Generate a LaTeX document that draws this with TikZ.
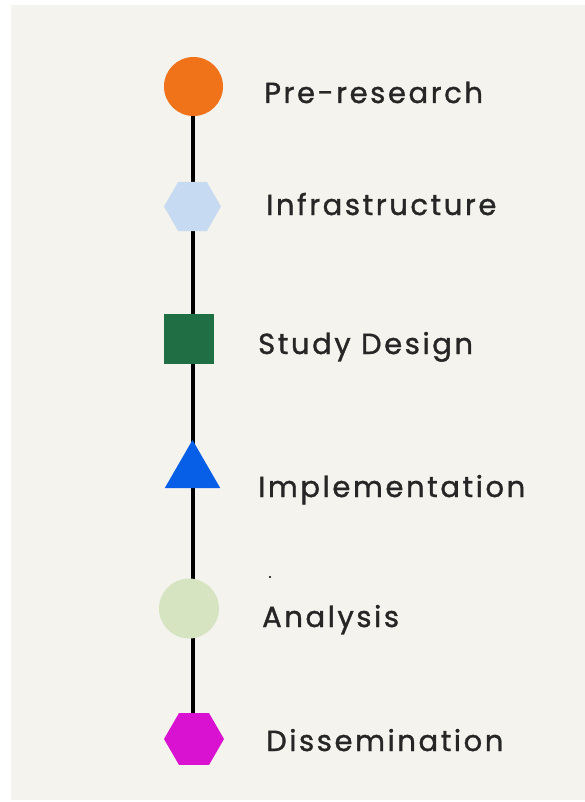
\documentclass[tikz,border=0pt]{standalone}
\usepackage{fontspec}
\setmainfont{Poppins}[LetterSpace=9, FakeBold=1.2]
\usepackage{tikz}
\usetikzlibrary{shapes.geometric}
\definecolor{paperColor}{HTML}{F4F3ED}
\definecolor{preColor}{HTML}{F07319}
\definecolor{infraColor}{HTML}{C6DAF1}
\definecolor{designColor}{HTML}{1F6E44}
\definecolor{implColor}{HTML}{065FE6}
\definecolor{analysisColor}{HTML}{D6E4C2}
\definecolor{dissColor}{HTML}{D812D0}

\begin{document}
\begin{tikzpicture}[x=1pt, y=-1pt,
    stage/.style={inner sep=0pt, outer sep=0pt, draw=none},
    hexagon/.style={stage, regular polygon, regular polygon sides=6},
    stagename/.style={anchor=base west, inner sep=0pt, text=black!85,
        font=\fontsize{29}{35}\selectfont}]
    \useasboundingbox (0,0) rectangle (585,802);
    \fill[paperColor] (11,5) rectangle (585,800);

    % the spine runs behind all the markers
    \coordinate (spineTop) at (193,87);
    \coordinate (spineBottom) at (193,739);
    \draw[line width=3.8pt] (spineTop) -- (spineBottom);

    \node[stage, circle, fill=preColor, minimum size=59pt] (pre) at (193.5,86.5) {};
    \node[hexagon, fill=infraColor, minimum size=57pt] (infra) at (192.5,206.5) {};
    \node[stage, rectangle, fill=designColor, minimum size=50pt] (design) at (189,339) {};
    \node[stage, regular polygon, regular polygon sides=3, fill=implColor, minimum size=64pt] (impl) at (192.5,472) {};
    \node[stage, circle, fill=analysisColor, minimum size=60pt] (analysis) at (189,608.5) {};
    \node[hexagon, fill=dissColor, minimum size=60pt] (diss) at (194,739) {};

    \node[stagename] (preText) at (264,103) {Pre-research};
    \node[stagename] (infraText) at (266,215) {Infrastructure};
    \node[stagename] (designText) at (258,354) {Study Design};
    \node[stagename] (implText) at (258,497) {Implementation};
    \node[stagename] (analysisText) at (262,627) {Analysis};
    \node[stagename] (dissText) at (266,751) {Dissemination};

    \fill (270,577) circle (1.1pt);
\end{tikzpicture}
\end{document}
